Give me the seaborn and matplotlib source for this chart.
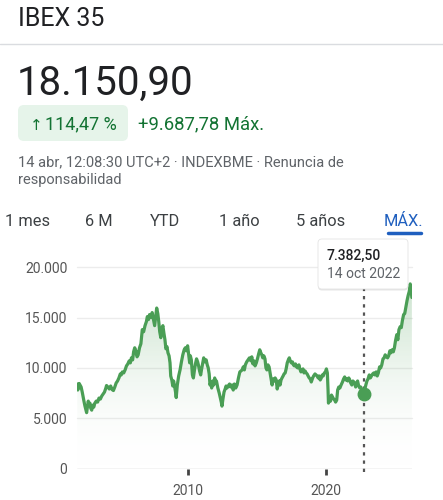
import numpy as np
import pandas as pd
import seaborn as sns
import matplotlib.pyplot as plt
from matplotlib.colors import LinearSegmentedColormap
from matplotlib.patches import FancyBboxPatch

# ---------------- data ----------------
years = [
    2001.92, 2001.96, 2002.00, 2002.06, 2002.12, 2002.20, 2002.28, 2002.36, 2002.42, 2002.48,
    2002.55, 2002.60, 2002.66, 2002.72, 2002.78, 2002.84, 2002.90, 2002.97, 2003.05, 2003.12,
    2003.20, 2003.30, 2003.40, 2003.50, 2003.60, 2003.70, 2003.80, 2003.90, 2004.00, 2004.05,
    2004.15, 2004.25, 2004.35, 2004.45, 2004.55, 2004.65, 2004.75, 2004.85, 2004.95, 2005.05,
    2005.12, 2005.20, 2005.30, 2005.40, 2005.50, 2005.60, 2005.70, 2005.78, 2005.86, 2005.95,
    2006.02, 2006.10, 2006.18, 2006.27, 2006.35, 2006.45, 2006.55, 2006.65, 2006.75, 2006.85,
    2006.95, 2007.02, 2007.10, 2007.18, 2007.28, 2007.37, 2007.45, 2007.55, 2007.62, 2007.70,
    2007.78, 2007.85, 2007.92, 2008.00, 2008.07, 2008.15, 2008.22, 2008.30, 2008.37, 2008.45,
    2008.52, 2008.60, 2008.67, 2008.72, 2008.80, 2008.87, 2008.93, 2009.00, 2009.07, 2009.12,
    2009.20, 2009.30, 2009.40, 2009.50, 2009.60, 2009.70, 2009.78, 2009.86, 2009.95, 2010.02,
    2010.10, 2010.15, 2010.22, 2010.30, 2010.37, 2010.45, 2010.52, 2010.60, 2010.68, 2010.75,
    2010.82, 2010.90, 2010.97, 2011.05, 2011.12, 2011.20, 2011.30, 2011.38, 2011.45, 2011.52,
    2011.58, 2011.64, 2011.70, 2011.78, 2011.85, 2011.92, 2011.98, 2012.05, 2012.15, 2012.25,
    2012.32, 2012.40, 2012.45, 2012.52, 2012.60, 2012.68, 2012.75, 2012.82, 2012.90, 2013.00,
    2013.08, 2013.18, 2013.27, 2013.35, 2013.45, 2013.55, 2013.65, 2013.75, 2013.83, 2013.92,
    2014.00, 2014.08, 2014.15, 2014.25, 2014.35, 2014.45, 2014.55, 2014.62, 2014.70, 2014.78,
    2014.86, 2014.95, 2015.05, 2015.12, 2015.20, 2015.28, 2015.35, 2015.42, 2015.50, 2015.58,
    2015.65, 2015.72, 2015.80, 2015.88, 2015.95, 2016.05, 2016.10, 2016.18, 2016.25, 2016.32,
    2016.40, 2016.47, 2016.55, 2016.62, 2016.68, 2016.75, 2016.82, 2016.90, 2016.97, 2017.05,
    2017.12, 2017.20, 2017.28, 2017.35, 2017.42, 2017.50, 2017.58, 2017.65, 2017.72, 2017.80,
    2017.88, 2017.95, 2018.05, 2018.12, 2018.20, 2018.28, 2018.35, 2018.42, 2018.50, 2018.58,
    2018.65, 2018.72, 2018.80, 2018.88, 2018.95, 2019.05, 2019.12, 2019.22, 2019.30, 2019.38,
    2019.45, 2019.52, 2019.60, 2019.68, 2019.75, 2019.82, 2019.90, 2019.98, 2020.05, 2020.12,
    2020.17, 2020.20, 2020.27, 2020.35, 2020.42, 2020.50, 2020.58, 2020.65, 2020.72, 2020.80,
    2020.87, 2020.95, 2021.03, 2021.12, 2021.22, 2021.30, 2021.38, 2021.45, 2021.52, 2021.60,
    2021.68, 2021.75, 2021.82, 2021.90, 2021.98, 2022.05, 2022.12, 2022.18, 2022.25, 2022.32,
    2022.40, 2022.48, 2022.55, 2022.62, 2022.70, 2022.785, 2022.85, 2022.92, 2023.00, 2023.08,
    2023.17, 2023.25, 2023.33, 2023.42, 2023.50, 2023.58, 2023.67, 2023.75, 2023.83, 2023.92,
    2024.00, 2024.08, 2024.17, 2024.25, 2024.33, 2024.42, 2024.50, 2024.58, 2024.67, 2024.75,
    2024.83, 2024.92, 2025.00, 2025.08, 2025.17, 2025.25, 2025.33, 2025.42, 2025.50, 2025.58,
    2025.67, 2025.75, 2025.83, 2025.92, 2026.00, 2026.08, 2026.15, 2026.20, 2026.27,
]
values = [
    8400, 7800, 8200, 8450, 8300, 8100, 7600, 7000, 6600, 6200,
    5800, 5550, 6100, 6700, 6300, 6500, 6000, 5800, 6300, 6100,
    6500, 6700, 6600, 7000, 6900, 7200, 7400, 7600, 8000, 8250,
    8100, 7900, 8200, 7850, 7750, 8100, 8500, 8700, 9000, 9400,
    9300, 9600, 9500, 9800, 10200, 10400, 10700, 10500, 11000, 10800,
    11600, 12000, 11700, 11100, 11300, 12000, 12400, 13800, 13600, 14200,
    14600, 15100, 14800, 15300, 15000, 15500, 14900, 14200, 15000, 15950,
    15400, 14600, 13600, 13000, 13900, 14200, 13500, 12800, 11900, 12100,
    11500, 11200, 10500, 9200, 8800, 8200, 8700, 8200, 7600, 7050,
    8300, 9200, 9800, 10600, 11300, 11800, 12000, 11700, 12200, 11400,
    10500, 11200, 10800, 9300, 9000, 9800, 10400, 10900, 10600, 10200,
    9700, 9300, 9900, 10500, 11000, 10600, 10800, 10300, 10000, 9400,
    8300, 8600, 8000, 8700, 8300, 9000, 8600, 8700, 8000, 7500,
    7100, 6600, 6200, 6900, 7600, 7900, 8200, 8000, 8200, 8400,
    8100, 8300, 7800, 8400, 8000, 8300, 9000, 9600, 9700, 9800,
    10100, 9800, 10300, 10600, 10800, 11000, 10700, 11100, 10400, 10700,
    10200, 10500, 11000, 11400, 11800, 11500, 11300, 11000, 11200, 10900,
    10000, 9800, 10300, 10100, 9500, 8700, 8300, 8900, 8700, 9000,
    8800, 7900, 8400, 8700, 8300, 8800, 9000, 9200, 9400, 9500,
    9900, 10500, 10800, 11000, 10700, 10500, 10600, 10300, 10200, 10400,
    10100, 10000, 10300, 9900, 9600, 9800, 9900, 9500, 9700, 9500,
    9400, 9200, 9000, 8900, 8600, 9000, 9200, 9400, 9300, 9200,
    9000, 9200, 8800, 9000, 9300, 9200, 9500, 9600, 9900, 9500,
    7800, 6500, 6900, 6700, 7300, 7100, 6900, 6800, 6600, 6800,
    7800, 8100, 8000, 8300, 8600, 8900, 9100, 8800, 8900, 8700,
    9000, 8800, 8500, 8300, 8700, 8600, 8400, 8100, 8500, 8700,
    8200, 8000, 8100, 7900, 7600, 7382.5, 7900, 8300, 8700, 8900,
    9300, 9000, 9200, 9400, 9500, 9300, 9600, 9200, 9500, 10100,
    10000, 10300, 10900, 11000, 11300, 11100, 11000, 11200, 11700, 11500,
    11800, 11600, 12000, 12700, 13300, 12800, 13800, 14100, 14000, 14700,
    15300, 15400, 16000, 16700, 17200, 17600, 18350, 17900, 17000,
]
y_ticks = [0, 5000, 10000, 15000, 20000]
y_tick_labels = ["0", "5.000", "10.000", "15.000", "20.000"]
x_ticks = [2010, 2020]
x_tick_labels = ["2010", "2020"]
tabs = ["1 mes", "6 M", "YTD", "1 año", "5 años", "MÁX."]
hover_x = 2022.785
hover_y = 7382.5

df = pd.DataFrame({"year": years, "value": values})

# ---------------- style ----------------
sns.set_theme(style="white")
plt.rcParams["font.family"] = ["Roboto", "DejaVu Sans"]

W, H = 443, 500
fig = plt.figure(figsize=(W / 100, H / 100), dpi=100)
fig.patch.set_facecolor("white")

def px_rect(x0, y0, x1, y1):
    return [x0 / W, 1 - y1 / H, (x1 - x0) / W, (y1 - y0) / H]

GREEN = "#4a9e55"
XL = (2001.90, 2026.28)
ax = fig.add_axes(px_rect(77, 267.3, 412, 468.5))
ax.set_xlim(*XL)
ax.set_ylim(0, 20000)
for s in ax.spines.values():
    s.set_visible(False)
ax.set_facecolor("none")

# gridlines
for v in y_ticks[1:]:
    ax.axhline(v, color="#ececec", lw=1, zorder=0, clip_on=False)
ax.axhline(0, color="#c8c8c8", lw=1, zorder=0)

# gradient fill under line
poly = ax.fill_between(df["year"], df["value"], 0, facecolor="none", edgecolor="none")
cmap = LinearSegmentedColormap.from_list(
    "g", [(1, 1, 1, 0.0), (0.30, 0.62, 0.34, 0.10), (0.30, 0.62, 0.34, 0.32)]
)
grad = np.linspace(0, 1, 256).reshape(-1, 1)
im = ax.imshow(grad, extent=[XL[0], XL[1], 0, 20000], origin="lower",
               aspect="auto", cmap=cmap, zorder=1)
im.set_clip_path(poly.get_paths()[0], transform=ax.transData)
ax.set_xlim(*XL)
ax.set_ylim(0, 20000)

sns.lineplot(data=df, x="year", y="value", ax=ax, color=GREEN, lw=2.3, zorder=3)

# hover line and dot
ax.plot([hover_x, hover_x], [-380, 17950], color="#555555", lw=1.6,
        linestyle=(0, (1.5, 2.2)), clip_on=False, zorder=2)
ax.plot([hover_x], [hover_y], marker="o", ms=9, color=GREEN, zorder=4, clip_on=False)

ax.set_xticks(x_ticks)
ax.set_xticklabels(x_tick_labels)
ax.set_yticks(y_ticks)
ax.set_yticklabels(y_tick_labels)
ax.set_xlabel("")
ax.set_ylabel("")
ax.tick_params(axis="x", length=4, width=2, color="#444444", pad=7,
               labelsize=10, labelcolor="#555555", bottom=True)
ax.tick_params(axis="y", length=0, pad=7, labelsize=10, labelcolor="#555555")
ax.grid(False)

# ---------------- overlay (pixel coords) ----------------
ov = fig.add_axes([0, 0, 1, 1], zorder=10)
ov.set_xlim(0, W)
ov.set_ylim(H, 0)
ov.axis("off")
ov.patch.set_alpha(0)

ov.text(18, 26, "IBEX 35", fontsize=18, color="#202124", va="baseline")
ov.plot([0, W], [44, 44], color="#dadce0", lw=1)
ov.text(17, 95, "18.150,90", fontsize=29, color="#202124", va="baseline")

ov.add_patch(FancyBboxPatch((18, 105), 110, 36, boxstyle="round,pad=0,rounding_size=6",
                            facecolor="#e6f4ea", edgecolor="none"))
ov.text(30, 129.5, "↑", fontsize=11, color="#137333", va="baseline",
        family=["DejaVu Sans"])
ov.text(45, 129.5, "114,47 %", fontsize=13, color="#137333", va="baseline")
ov.text(138, 129.5, "+9.687,78 Máx.", fontsize=13.3, color="#137333", va="baseline")

ov.text(18, 166, "14 abr, 12:08:30 UTC+2 · INDEXBME · Renuncia de", fontsize=10.5,
        color="#5f6368", va="baseline")
ov.text(18, 184, "responsabilidad", fontsize=10.5, color="#5f6368", va="baseline")

tab_x = [5, 85, 150, 219, 296, 384]
for t, x in zip(tabs, tab_x):
    ov.text(x, 226.5, t, fontsize=11.8, va="baseline",
            color="#1f5fbf" if t == "MÁX." else "#3c4043")
ov.plot([388, 421], [233, 233], color="#1f5fbf", lw=2.5, solid_capstyle="round")

# tooltip
ov.add_patch(FancyBboxPatch((318, 240.5), 90, 50, boxstyle="round,pad=0,rounding_size=4",
                            facecolor="#000000", alpha=0.10, edgecolor="none"))
ov.add_patch(FancyBboxPatch((318, 239), 90, 50, boxstyle="round,pad=0,rounding_size=4",
                            facecolor="white", edgecolor="#e4e4e4", lw=0.6))
ov.text(327, 259.5, "7.382,50", fontsize=10, color="#202124", va="baseline",
        fontweight="medium")
ov.text(327, 277.5, "14 oct 2022", fontsize=10, color="#5f6368", va="baseline")

fig.savefig("out.png", dpi=100, facecolor="white")
